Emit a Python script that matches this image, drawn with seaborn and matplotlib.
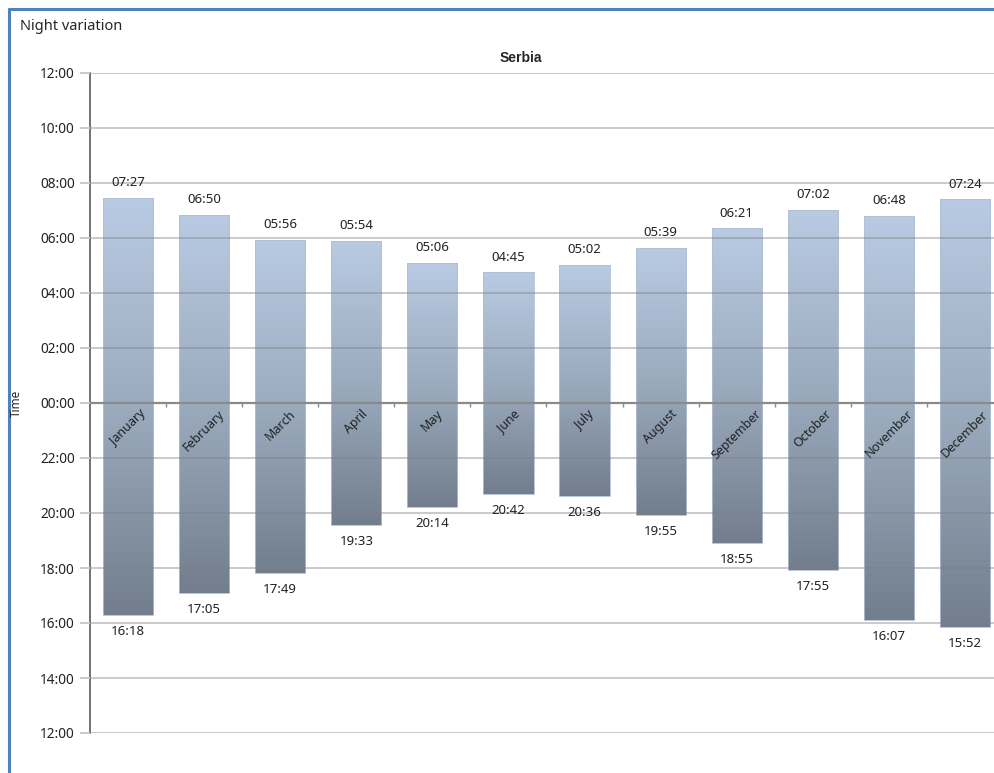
import numpy as np
import pandas as pd
import matplotlib
matplotlib.use("Agg")
import matplotlib.pyplot as plt
import seaborn as sns
from matplotlib.colors import LinearSegmentedColormap
from matplotlib.lines import Line2D

# donnees : lever / coucher du soleil (Serbie)
months = ["January", "February", "March", "April", "May", "June",
          "July", "August", "September", "October", "November", "December"]
sunrise = ["07:27", "06:50", "05:56", "05:54", "05:06", "04:45",
           "05:02", "05:39", "06:21", "07:02", "06:48", "07:24"]
sunset = ["16:18", "17:05", "17:49", "19:33", "20:14", "20:42",
          "20:36", "19:55", "18:55", "17:55", "16:07", "15:52"]
ytick_hours = list(range(-12, 13, 2))


def to_hours(s):
    h, m = s.split(":")
    return int(h) + int(m) / 60


df = pd.DataFrame({"month": months,
                   "rise": [to_hours(s) for s in sunrise],
                   "set": [to_hours(s) - 24 for s in sunset]})
df["night"] = df["rise"] - df["set"]

sns.set_style("white")
plt.rcParams["font.family"] = ["Noto Sans", "DejaVu Sans"]

W, H = 995, 773
fig = plt.figure(figsize=(W / 100, H / 100), dpi=100)
ax = fig.add_axes([90 / W, 40 / H, 913 / W, 660 / H])

sns.barplot(data=df, x="month", y="night", bottom=df["set"].values,
            width=0.66, errorbar=None, color="#9aaabd", ax=ax,
            edgecolor="#b0bfd2", linewidth=0.6)

# degrade vertical dans chaque barre
cmap = LinearSegmentedColormap.from_list("g", ["#727e8d", "#9babbe", "#b9cbe3"])
grad = np.linspace(0, 1, 256).reshape(-1, 1)
for p in ax.patches:
    x0, y0, w, h = p.get_x(), p.get_y(), p.get_width(), p.get_height()
    im = ax.imshow(grad, extent=[x0, x0 + w, y0, y0 + h], origin="lower",
                   aspect="auto", cmap=cmap, zorder=1.5)
    im.set_clip_path(p)
    p.set_facecolor("none")
    p.set_zorder(2)

ax.set_xlim(-0.5, 11.5)
ax.set_ylim(-12, 12)

# grille
ax.set_yticks(ytick_hours)
ax.set_yticklabels([f"{(h + 24) % 24:02d}:00" for h in ytick_hours], fontsize=9.8)
ax.yaxis.grid(True, color="#808080", alpha=0.42, lw=1.4)
ax.set_axisbelow(False)
ax.tick_params(axis="y", length=7, width=1.4, color="#c8c8c8", pad=4,
               left=True, labelcolor="#222222")
ax.set_xticks([])
ax.set_xlabel("")
ax.set_ylabel("")
for s in ["top", "right", "bottom"]:
    ax.spines[s].set_visible(False)
ax.spines["left"].set_color("#5a5a5a")
ax.spines["left"].set_linewidth(1.2)
ax.axhline(0, color="#8a8a8a", lw=1.6, zorder=3)
ax.vlines(np.arange(0.5, len(months) - 1), -0.14, 0, color="#8a8a8a", lw=1, zorder=3)

# etiquettes
for i, row in df.iterrows():
    ax.text(i, row["rise"] + 0.55, sunrise[i], ha="center", va="center",
            fontsize=9.5, color="#222222")
    ax.text(i, row["set"] - 0.6, sunset[i], ha="center", va="center",
            fontsize=9.5, color="#222222")
    ax.text(i, -0.17, row["month"], rotation=45, ha="center", va="top",
            fontsize=9, color="#222222", zorder=4)

fig.text(521 / W, 1 - 58 / H, "Serbia", ha="center", va="center",
         fontsize=10, fontweight="bold", family=["Liberation Sans", "DejaVu Sans"])
fig.text(20 / W, 1 - 27 / H, "Night variation", ha="left", va="center", fontsize=10.5)
fig.text(16 / W, 1 - 403 / H, "Time", ha="center", va="center",
         rotation=90, fontsize=8.5)

# cadre bleu
fig.add_artist(Line2D([9 / W, 9 / W], [0, 1 - 9 / H], color="#4f81bd", lw=2.2))
fig.add_artist(Line2D([9 / W, 1], [1 - 9 / H, 1 - 9 / H], color="#4f81bd", lw=2.2))

fig.savefig("out.png", dpi=100)
